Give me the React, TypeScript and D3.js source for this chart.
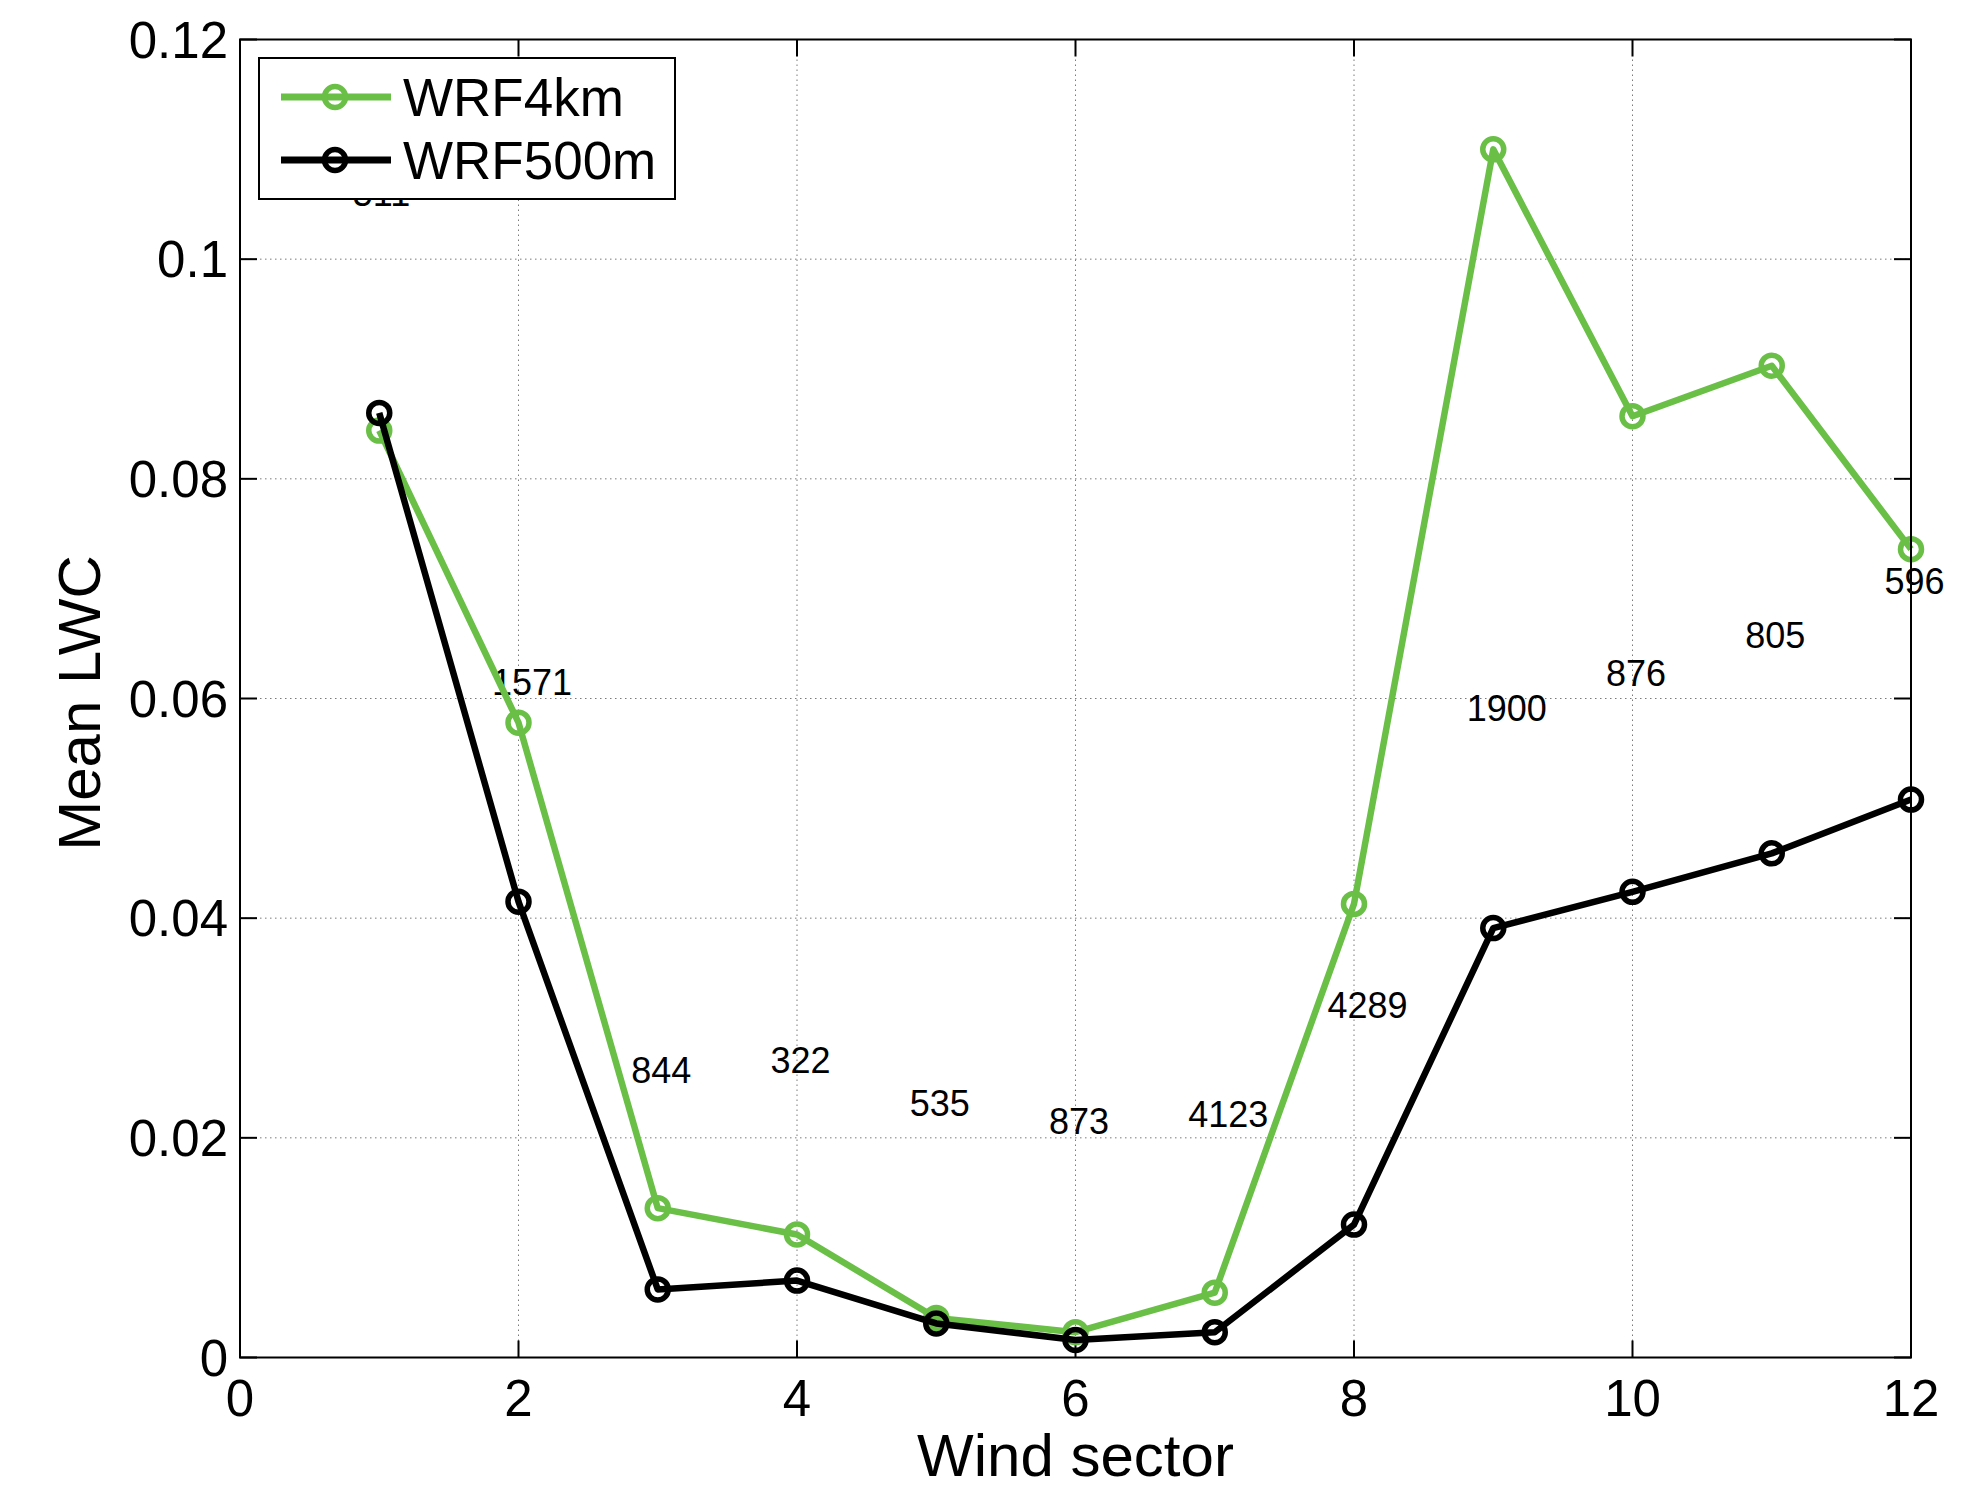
import React from 'react'
import * as d3 from 'd3'

// wind sectors 1..12
const sectors = [1, 2, 3, 4, 5, 6, 7, 8, 9, 10, 11, 12]

const wrf4km = [0.0844, 0.0578, 0.0136, 0.0112, 0.0036, 0.0023, 0.0059, 0.0413, 0.1100, 0.0857, 0.0903, 0.0736]
const wrf500m = [0.0860, 0.0415, 0.0062, 0.0070, 0.0031, 0.0016, 0.0023, 0.0121, 0.0391, 0.0424, 0.0459, 0.0508]

// number of samples per sector, and where the count is written (y in LWC units)
const counts = ['511', '1571', '844', '322', '535', '873', '4123', '4289', '1900', '876', '805', '596']
const countY = [0.1060, 0.0615, 0.0262, 0.0271, 0.0232, 0.0215, 0.0222, 0.0321, 0.0591, 0.0623, 0.0658, 0.0707]

const xTicks = [0, 2, 4, 6, 8, 10, 12]
const yTicks = [0, 0.02, 0.04, 0.06, 0.08, 0.1, 0.12]
const yTickLabels = ['0', '0.02', '0.04', '0.06', '0.08', '0.1', '0.12']

const GREEN = '#6abf47'
const FONT = '"Liberation Sans", Arial, sans-serif'

export default function App() {
  const width = 1983
  const height = 1486
  const left = 240, right = 1911, top = 39.5, bottom = 1357.5

  const x = d3.scaleLinear().domain([0, 12]).range([left, right])
  const y = d3.scaleLinear().domain([0, 0.12]).range([bottom, top])

  const line = d3.line<number>()
    .x((d, i) => x(sectors[i]))
    .y(d => y(d))

  const tickLen = 17
  const series = [
    { name: 'WRF4km', values: wrf4km, color: GREEN },
    { name: 'WRF500m', values: wrf500m, color: '#000' },
  ]

  return (
    <svg width={width} height={height} style={{ position: 'absolute', left: 0, top: 0, background: '#fff' }}
      fontFamily={FONT}>
      <rect x={0} y={0} width={width} height={height} fill="#fff" />

      {/* grid */}
      <g stroke="#7a7a7a" strokeWidth={1} strokeDasharray="1.5,3.5">
        {xTicks.slice(1, -1).map(t => (
          <line key={'gx' + t} x1={x(t)} x2={x(t)} y1={top} y2={bottom} />
        ))}
        {yTicks.slice(1, -1).map(t => (
          <line key={'gy' + t} x1={left} x2={right} y1={y(t)} y2={y(t)} />
        ))}
      </g>

      {/* ticks on all four sides, pointing inwards */}
      <g stroke="#000" strokeWidth={2}>
        {xTicks.map(t => (
          <g key={'tx' + t}>
            <line x1={x(t)} x2={x(t)} y1={bottom} y2={bottom - tickLen} />
            <line x1={x(t)} x2={x(t)} y1={top} y2={top + tickLen} />
          </g>
        ))}
        {yTicks.map(t => (
          <g key={'ty' + t}>
            <line x1={left} x2={left + tickLen} y1={y(t)} y2={y(t)} />
            <line x1={right} x2={right - tickLen} y1={y(t)} y2={y(t)} />
          </g>
        ))}
      </g>

      {/* tick labels */}
      <g fontSize={51} fill="#000">
        {xTicks.map(t => (
          <text key={'lx' + t} x={x(t)} y={1416} textAnchor="middle">{t}</text>
        ))}
        {yTicks.map((t, i) => (
          <text key={'ly' + t} x={left - 12} y={y(t) + 18} textAnchor="end">{yTickLabels[i]}</text>
        ))}
      </g>

      {/* axis labels */}
      <text x={(left + right) / 2} y={1476} textAnchor="middle" fontSize={60}>Wind sector</text>
      <text transform={`translate(100,703) rotate(-90)`} textAnchor="middle" fontSize={60}>Mean LWC</text>

      {/* sample counts */}
      <g fontSize={36} fill="#000">
        {counts.map((c, i) => (
          <text key={'c' + i} x={x(sectors[i] - 0.19)} y={y(countY[i]) + 13}>{c}</text>
        ))}
      </g>

      {/* data */}
      {series.map(s => (
        <g key={s.name}>
          <path d={line(s.values) || ''} fill="none" stroke={s.color} strokeWidth={6.5} strokeLinejoin="round" />
          {s.values.map((v, i) => (
            <circle key={i} cx={x(sectors[i])} cy={y(v)} r={10.5} fill="none" stroke={s.color} strokeWidth={5.5} />
          ))}
        </g>
      ))}

      {/* box */}
      <rect x={left} y={top} width={right - left} height={bottom - top} fill="none" stroke="#000" strokeWidth={2} />

      {/* legend */}
      <g>
        <rect x={259} y={58} width={416} height={141} fill="#fff" stroke="#000" strokeWidth={2} />
        {series.map((s, i) => {
          const ly = 97 + i * 63
          return (
            <g key={'lg' + s.name}>
              <line x1={281} x2={391} y1={ly} y2={ly} stroke={s.color} strokeWidth={7} />
              <circle cx={335} cy={ly} r={10.5} fill="none" stroke={s.color} strokeWidth={5.5} />
              <text x={403} y={ly + 19} fontSize={53}>{s.name}</text>
            </g>
          )
        })}
      </g>
    </svg>
  )
}
